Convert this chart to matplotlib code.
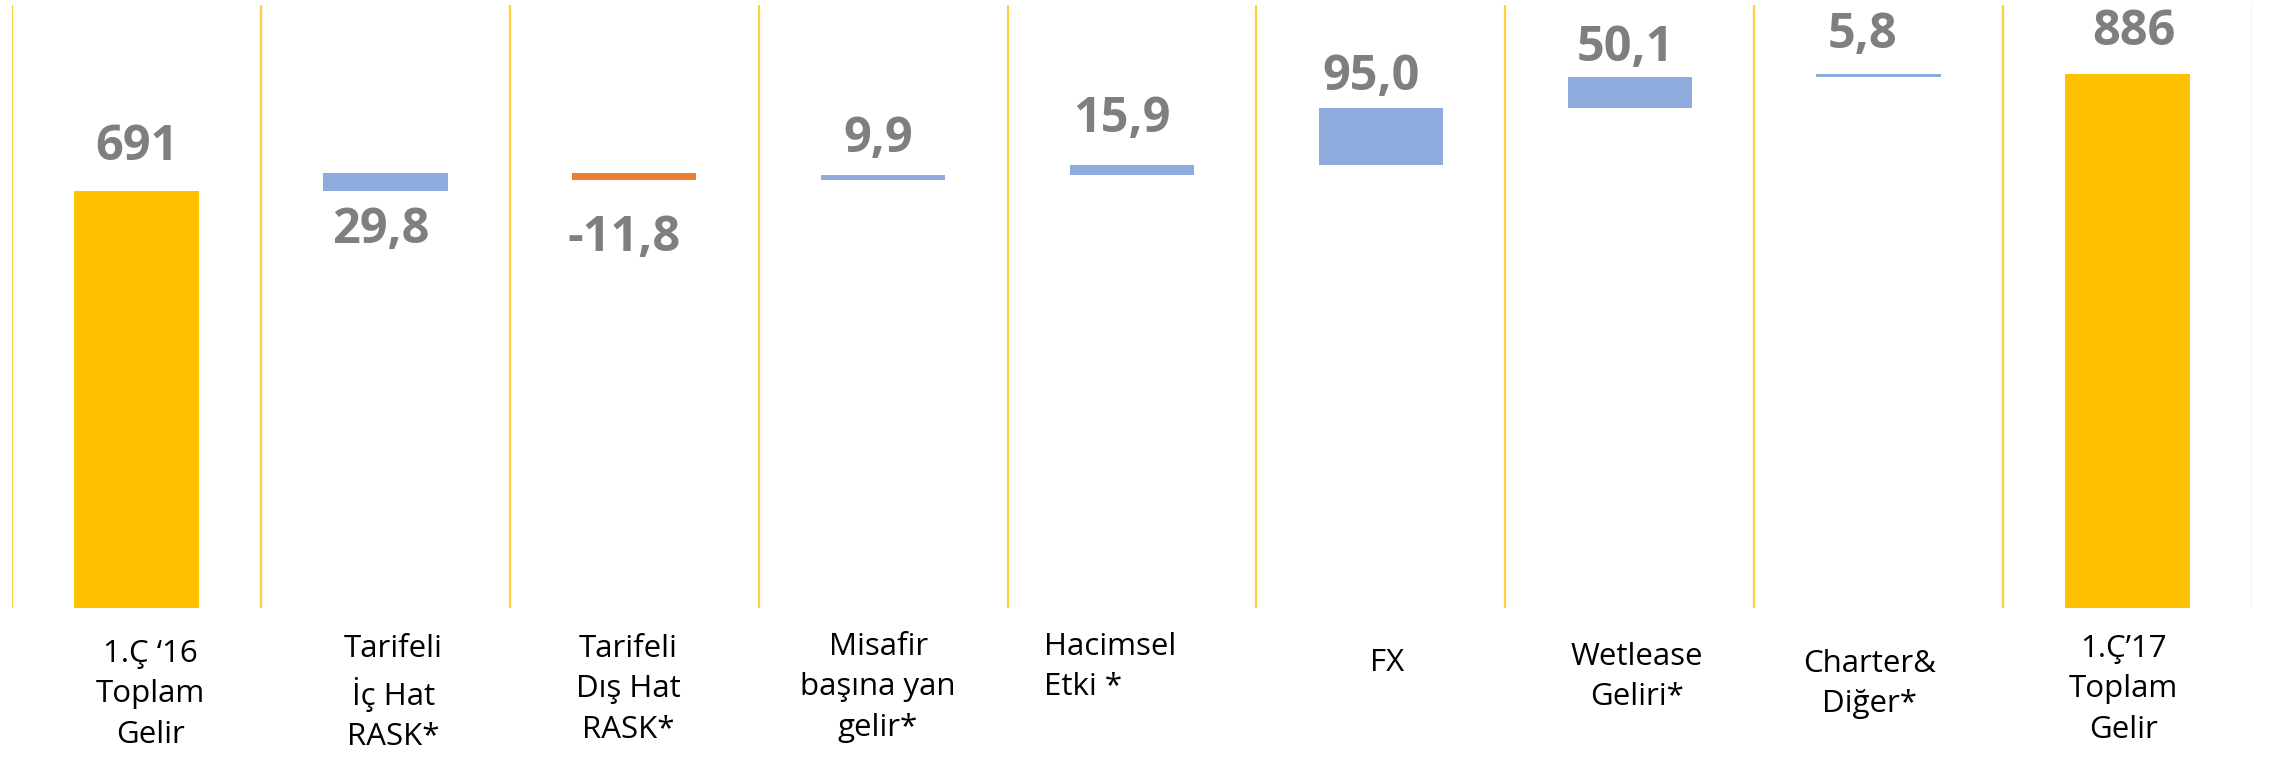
import numpy as np
import matplotlib
matplotlib.use("Agg")
import matplotlib.pyplot as plt

# data
categories = ["1.Ç ‘16\nToplam\nGelir", "Tarifeli\nİç Hat\nRASK*", "Tarifeli\nDış Hat\nRASK*",
              "Misafir\nbaşına yan\ngelir*", "Hacimsel\nEtki *", "FX", "Wetlease\nGeliri*",
              "Charter&\nDiğer*", "1.Ç’17\nToplam\nGelir"]
start_total = 691
changes = [29.8, -11.8, 9.9, 15.9, 95.0, 50.1, 5.8]
end_total = 886
value_labels = ["691", "29,8", "-11,8", "9,9", "15,9", "95,0", "50,1", "5,8", "886"]

# layout (pixel offsets, tuned to the reference)
label_above = [True, False, False, True, True, True, True, True, True]
label_gap = [31, 17, 36, 23, 33, 18, 16, 26, 29]
label_dx = [0, -5, -10, -5, -10, -10, -4, -16, 6]
cat_dy = [55, 50, 50, 48, 48, 64, 58, 65, 50]   # first-line baseline below axis
cat_dx = [14, 8, -6, -5, -22, 6, 7, -9, -4]
cat_align = ["center", "center", "center", "center", "left", "center", "center", "center", "center"]

GOLD = "#FFC000"
BLUE = "#8FAADC"
ORANGE = "#ED7D31"
GRAY = "#7F7F7F"

# waterfall geometry
cum = start_total + np.concatenate([[0], np.cumsum(changes)])
bottoms = [0]
heights = [start_total]
colors = [GOLD]
for i, d in enumerate(changes):
    bottoms.append(min(cum[i], cum[i + 1]))
    heights.append(abs(d))
    colors.append(BLUE if d >= 0 else ORANGE)
bottoms.append(0)
heights.append(end_total)
colors.append(GOLD)
bottoms = np.array(bottoms)
heights = np.array(heights)

plt.rcParams["font.family"] = ["Open Sans", "DejaVu Sans"]

W, H = 2274, 760
fig = plt.figure(figsize=(W / 100, H / 100), dpi=100)
ax = fig.add_axes([12 / W, 152 / H, 2240 / W, 603 / H])

x = np.arange(len(categories))
ax.bar(x, heights, bottom=bottoms, width=0.5, color=colors, edgecolor="none", zorder=3)

for k in range(len(categories)):
    ax.axvline(k - 0.5, color="#FFD040", lw=1.6, zorder=1)
ax.axvline(len(categories) - 0.5, color=GOLD, lw=1.0, zorder=1)

ax.set_xlim(-0.5, len(categories) - 0.5)
ax.set_ylim(0, 1000)
ax.set_xticks([])
ax.set_yticks([])
for s in ax.spines.values():
    s.set_visible(False)

for i in range(len(categories)):
    if label_above[i]:
        y = bottoms[i] + heights[i]
        dy = label_gap[i]
    else:
        y = bottoms[i]
        dy = -(label_gap[i] + 35)
    ax.annotate(value_labels[i], xy=(i, y), xytext=(label_dx[i], dy),
                textcoords="offset pixels", ha="center", va="baseline",
                fontsize=35, fontweight="bold", color=GRAY, annotation_clip=False)

    ax.annotate(categories[i], xy=(i, 0), xytext=(cat_dx[i], -(cat_dy[i] - 24)),
                textcoords="offset pixels", ha="center", va="top",
                multialignment=cat_align[i], linespacing=1.45,
                fontsize=22.5, color="black", annotation_clip=False)

fig.savefig("out.png", dpi=100, facecolor="white")
